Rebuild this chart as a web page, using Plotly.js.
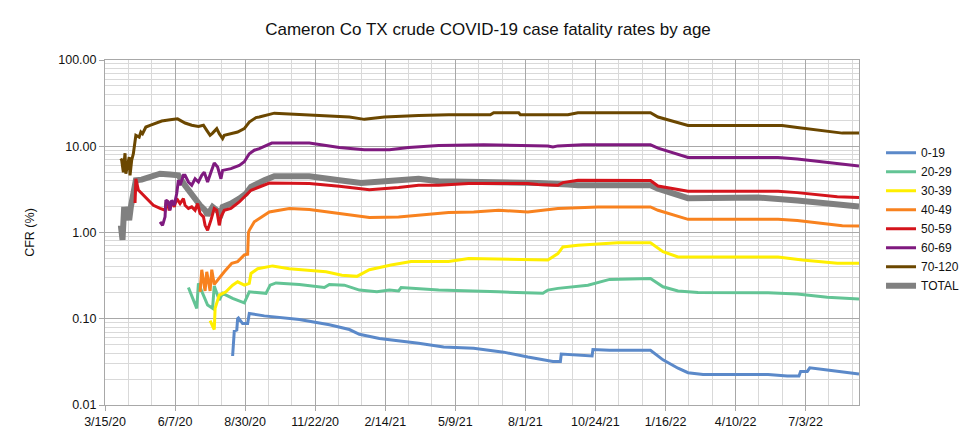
<!DOCTYPE html>
<html>
<head>
<meta charset="utf-8">
<script src="https://cdn.plot.ly/plotly-3.0.1.min.js"></script>
<style>
  html, body { margin: 0; padding: 0; background: #fff; }
  #chart { width: 976px; height: 438px; }
</style>
</head>
<body>
<div id="chart"></div>
<script>
// values (CFR in %)
const d0_19 = ['2020-08-15','2020-08-17','2020-08-20','2020-08-21','2020-08-22','2020-08-27','2020-09-02','2020-09-04','2020-09-22','2020-11-03','2020-12-09','2021-01-02','2021-01-14','2021-02-07','2021-03-26','2021-04-25','2021-05-31','2021-07-06','2021-08-04','2021-09-03','2021-09-12','2021-09-13','2021-10-20','2021-10-21','2021-11-10','2021-12-29','2022-01-13','2022-01-31','2022-02-12','2022-03-02','2022-05-19','2022-06-11','2022-06-25','2022-06-27','2022-07-05','2022-07-08','2022-07-29','2022-08-22','2022-09-05'];
const v0_19 = [0.037,0.072,0.074,0.100,0.102,0.088,0.088,0.115,0.108,0.098,0.085,0.075,0.066,0.059,0.052,0.047,0.0455,0.041,0.036,0.032,0.032,0.039,0.037,0.044,0.043,0.043,0.0334,0.0267,0.0237,0.0226,0.0226,0.0217,0.0217,0.0245,0.0245,0.027,0.0254,0.0237,0.0229];

const d20_29 = ['2020-06-23','2020-07-03','2020-07-05','2020-07-10','2020-07-16','2020-07-22','2020-07-24','2020-07-30','2020-08-03','2020-08-15','2020-08-29','2020-09-04','2020-09-24','2020-09-29','2020-10-06','2020-11-03','2020-12-03','2020-12-09','2020-12-27','2021-01-14','2021-02-04','2021-02-19','2021-03-02','2021-03-05','2021-04-19','2021-06-30','2021-08-22','2021-08-28','2021-09-09','2021-10-15','2021-11-10','2021-12-29','2022-01-13','2022-01-31','2022-02-24','2022-05-19','2022-06-23','2022-07-29','2022-09-05'];
const v20_29 = [0.23,0.132,0.257,0.20,0.144,0.132,0.24,0.165,0.197,0.172,0.153,0.205,0.197,0.245,0.26,0.25,0.23,0.25,0.245,0.215,0.205,0.215,0.21,0.23,0.215,0.205,0.198,0.215,0.225,0.245,0.286,0.293,0.235,0.21,0.202,0.20,0.193,0.177,0.169];

const d30_39 = ['2020-07-19','2020-07-24','2020-07-25','2020-07-30','2020-08-07','2020-08-15','2020-08-21','2020-08-29','2020-09-04','2020-09-06','2020-09-14','2020-10-02','2020-10-22','2020-12-05','2020-12-24','2021-01-11','2021-01-26','2021-02-21','2021-03-17','2021-05-01','2021-05-25','2021-06-30','2021-08-28','2021-09-09','2021-09-15','2021-10-03','2021-10-27','2021-11-20','2021-12-29','2022-01-13','2022-01-31','2022-05-31','2022-06-29','2022-08-10','2022-09-05'];
const v30_39 = [0.095,0.075,0.132,0.188,0.205,0.245,0.268,0.245,0.257,0.335,0.38,0.41,0.38,0.35,0.32,0.31,0.37,0.42,0.46,0.46,0.50,0.49,0.48,0.57,0.68,0.71,0.73,0.76,0.76,0.60,0.52,0.52,0.48,0.44,0.44];

const d40_49 = ['2020-07-07','2020-07-09','2020-07-13','2020-07-15','2020-07-19','2020-07-21','2020-07-24','2020-07-30','2020-08-05','2020-08-14','2020-08-21','2020-08-29','2020-09-02','2020-09-03','2020-09-04','2020-09-10','2020-09-22','2020-09-28','2020-10-22','2020-11-15','2020-12-21','2021-01-26','2021-03-02','2021-04-07','2021-05-01','2021-05-31','2021-06-30','2021-08-04','2021-09-09','2021-10-27','2021-12-29','2022-01-07','2022-02-12','2022-05-31','2022-06-23','2022-08-16','2022-09-05'];
const v40_49 = [0.205,0.37,0.21,0.35,0.21,0.37,0.25,0.30,0.35,0.44,0.46,0.55,0.56,1.00,1.06,1.33,1.58,1.73,1.90,1.85,1.66,1.49,1.51,1.63,1.70,1.73,1.81,1.73,1.90,1.98,1.98,1.81,1.42,1.42,1.38,1.20,1.19];

const d50_59 = ['2020-04-20','2020-04-21','2020-04-24','2020-05-04','2020-05-12','2020-05-20','2020-05-26','2020-05-28','2020-05-31','2020-06-03','2020-06-06','2020-06-09','2020-06-13','2020-06-17','2020-06-19','2020-06-23','2020-06-27','2020-07-01','2020-07-04','2020-07-07','2020-07-11','2020-07-13','2020-07-16','2020-07-20','2020-07-24','2020-07-27','2020-07-30','2020-08-01','2020-08-05','2020-08-13','2020-08-23','2020-08-31','2020-09-06','2020-09-16','2020-09-28','2020-11-15','2020-12-21','2021-01-26','2021-03-02','2021-03-26','2021-04-19','2021-05-25','2021-08-04','2021-08-16','2021-09-09','2021-09-15','2021-10-03','2021-12-29','2022-01-07','2022-02-12','2022-05-31','2022-06-23','2022-08-10','2022-09-05'];
const v50_59 = [2.2,4.2,3.1,2.47,2.07,1.9,1.81,2.37,1.81,2.26,1.98,2.47,2.16,2.47,2.07,1.9,1.98,1.81,2.16,1.66,1.52,1.21,1.06,1.39,1.9,1.81,1.21,1.52,1.81,1.9,2.26,2.7,3.09,3.37,3.75,3.69,3.44,3.14,3.32,3.53,3.53,3.69,3.69,3.6,3.53,3.79,4.03,4.0,3.46,3.0,3.0,2.9,2.6,2.55];

const d60_69 = ['2020-05-20','2020-05-23','2020-05-26','2020-05-27','2020-05-30','2020-06-01','2020-06-03','2020-06-06','2020-06-09','2020-06-11','2020-06-13','2020-06-17','2020-06-19','2020-06-23','2020-06-27','2020-07-01','2020-07-05','2020-07-09','2020-07-12','2020-07-16','2020-07-20','2020-07-24','2020-07-28','2020-08-01','2020-08-03','2020-08-13','2020-08-23','2020-08-29','2020-09-04','2020-09-10','2020-09-16','2020-10-01','2020-11-15','2020-12-21','2021-01-20','2021-02-19','2021-03-14','2021-04-19','2021-06-12','2021-08-28','2021-09-03','2021-09-09','2021-10-09','2021-12-29','2022-01-07','2022-02-12','2022-05-31','2022-06-23','2022-09-05'];
const v60_69 = [1.33,1.21,1.52,2.37,2.26,1.81,2.37,2.07,2.83,4.03,3.53,4.6,4.6,3.85,3.53,4.2,3.85,4.6,5.0,3.85,5.0,6.4,5.75,4.2,5.25,5.5,6.0,6.6,8.2,9.0,9.4,10.9,10.9,9.7,9.1,9.1,9.7,10.2,10.4,10.05,9.8,10.1,10.4,10.4,9.5,7.4,7.4,7.1,5.9];

const d70_120 = ['2020-04-03','2020-04-04','2020-04-06','2020-04-08','2020-04-09','2020-04-11','2020-04-13','2020-04-14','2020-04-16','2020-04-18','2020-04-21','2020-04-25','2020-04-27','2020-04-29','2020-05-03','2020-05-08','2020-05-14','2020-05-22','2020-06-01','2020-06-10','2020-06-19','2020-06-27','2020-07-05','2020-07-11','2020-07-15','2020-07-19','2020-07-22','2020-07-27','2020-07-30','2020-08-03','2020-08-05','2020-08-13','2020-08-21','2020-08-29','2020-09-04','2020-09-12','2020-09-16','2020-10-04','2020-10-16','2020-11-27','2021-01-02','2021-01-20','2021-02-13','2021-03-26','2021-05-01','2021-06-20','2021-06-24','2021-07-24','2021-07-26','2021-09-21','2021-10-03','2021-12-29','2022-01-07','2022-02-12','2022-06-05','2022-06-23','2022-08-16','2022-09-05'];
const v70_120 = [7.2,6.9,5.0,8.3,4.8,6.0,7.5,4.6,6.9,8.2,13.4,12.8,14.6,14.0,16.7,17.5,18.3,19.6,20.3,20.8,18.6,17.5,17.0,17.5,15.3,13.4,14.2,16.0,14.0,12.3,13.4,14.0,14.6,16.0,19.1,21.5,21.8,24.2,23.8,22.8,21.8,20.5,21.8,22.8,23.2,23.2,24.5,24.5,23.2,23.2,24.5,24.5,21.8,17.4,17.4,16.5,14.2,14.2];

const dTotal = ['2020-04-03','2020-04-04','2020-04-05','2020-04-07','2020-04-09','2020-04-10','2020-04-13','2020-04-15','2020-04-18','2020-04-21','2020-04-28','2020-05-08','2020-05-20','2020-06-01','2020-06-11','2020-06-19','2020-06-25','2020-07-01','2020-07-07','2020-07-13','2020-07-16','2020-07-22','2020-07-28','2020-08-01','2020-08-03','2020-08-13','2020-08-23','2020-08-31','2020-09-06','2020-09-16','2020-09-22','2020-10-04','2020-11-15','2020-12-21','2021-01-16','2021-03-02','2021-03-26','2021-04-19','2021-07-24','2021-08-16','2021-09-21','2021-10-03','2021-12-29','2022-01-07','2022-02-12','2022-05-07','2022-06-23','2022-09-05'];
const vTotal = [1.21,0.89,0.82,1.98,1.39,1.98,1.39,1.98,3.09,4.03,4.1,4.4,4.8,4.7,4.6,3.5,2.9,2.41,2.07,1.81,1.59,1.98,1.81,1.66,1.98,2.16,2.47,2.83,3.37,3.85,4.03,4.48,4.48,4.03,3.75,4.03,4.2,3.93,3.9,3.75,3.6,3.53,3.53,3.23,2.5,2.55,2.35,2.0];

const seriesNames  = ['0-19','20-29','30-39','40-49','50-59','60-69','70-120','TOTAL'];
const seriesDates  = [d0_19, d20_29, d30_39, d40_49, d50_59, d60_69, d70_120, dTotal];
const seriesValues = [v0_19, v20_29, v30_39, v40_49, v50_59, v60_69, v70_120, vTotal];
const seriesColors = ['#5B89C9','#63C495','#FFEF00','#F8821F','#D4141C','#7F1A7F','#6B4700','#808080'];

const DAY = 86400000;
const FONT = "'Liberation Sans', Arial, sans-serif";

// TOTAL goes underneath the age groups, but last in the legend
const traces = seriesNames.map((name, i) => ({
  x: seriesDates[i],
  y: seriesValues[i],
  type: 'scatter',
  mode: 'lines',
  name: name,
  legendrank: i + 1,
  line: { color: seriesColors[i], width: name === 'TOTAL' ? 6 : 3 },
}));
traces.unshift(traces.pop());

const layout = {
  width: 976,
  height: 438,
  paper_bgcolor: '#fff',
  plot_bgcolor: '#fff',
  font: { family: FONT, color: '#111', size: 12.5 },
  margin: { t: 60, r: 114, b: 33, l: 105 },
  title: {
    text: 'Cameron Co TX crude COVID-19 case fatality rates by age',
    font: { size: 17, color: '#111' },
    x: 0.5, xanchor: 'center',
    y: 1 - 29.5 / 438, yanchor: 'middle',
  },
  showlegend: true,
  legend: {
    x: 1.0292, xanchor: 'left',
    y: 0.5386, yanchor: 'middle',
    font: { size: 12, color: '#111' },
    bgcolor: 'rgba(0,0,0,0)',
    itemwidth: 30,
  },
  xaxis: {
    type: 'date',
    range: ['2020-03-15', '2022-09-05'],
    tick0: '2020-03-15',
    dtick: 84 * DAY,
    tickformat: '%-m/%-d/%y',
    showgrid: true,
    gridcolor: '#A8A8A8',
    minor: { tick0: '2020-03-15', dtick: 28 * DAY, showgrid: true, gridcolor: '#D9D9D9' },
    showline: true,
    linecolor: '#A8A8A8',
    mirror: true,
    ticks: 'outside',
    ticklen: 5,
    tickcolor: '#A8A8A8',
    zeroline: false,
    tickfont: { size: 12.5 },
  },
  yaxis: {
    type: 'log',
    range: [-2, 2],
    dtick: 1,
    tickformat: '.2f',
    showgrid: true,
    gridcolor: '#A8A8A8',
    minor: { dtick: 'D1', showgrid: true, gridcolor: '#D9D9D9' },
    showline: true,
    linecolor: '#A8A8A8',
    mirror: true,
    ticks: 'outside',
    ticklen: 5,
    tickcolor: '#A8A8A8',
    zeroline: false,
    tickfont: { size: 12.5 },
    title: { text: 'CFR (%)', font: { size: 12.5 }, standoff: 20 },
  },
};

Plotly.newPlot('chart', traces, layout, { displayModeBar: false, staticPlot: true });
</script>
</body>
</html>
